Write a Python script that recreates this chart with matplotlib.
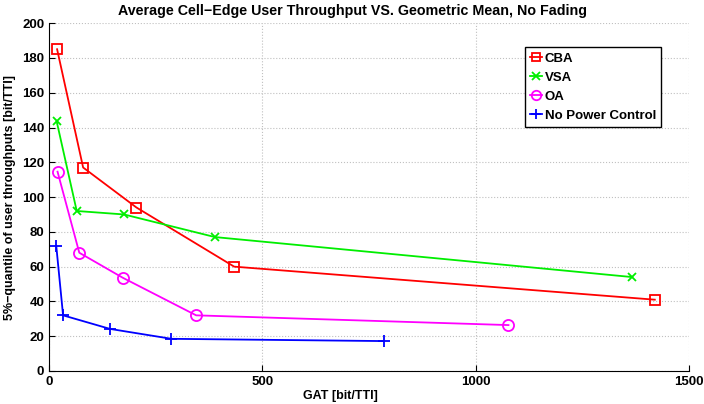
import matplotlib
matplotlib.use('Agg')
import matplotlib.pyplot as plt

# dane
cba_x = [19, 80, 205, 434, 1420]
cba_y = [185, 117, 94, 60, 41]
vsa_x = [18, 65, 176, 389, 1367]
vsa_y = [143.5, 92, 90, 77, 54]
oa_x = [20, 71, 173, 345, 1077]
oa_y = [114.6, 68, 53.6, 32, 26.4]
npc_x = [17, 33, 143, 287, 785]
npc_y = [72, 32, 24.2, 18.5, 17.2]

labels = ['CBA', 'VSA', 'OA', 'No Power Control']
x_ticks = [0, 500, 1000, 1500]
y_ticks = list(range(0, 201, 20))

plt.rcParams['font.family'] = ['Liberation Sans', 'DejaVu Sans']
plt.rcParams['font.weight'] = 'bold'

fig = plt.figure(figsize=(7.04, 4.04), dpi=100)
ax = fig.add_axes([0.0696, 0.0817, 0.909, 0.861])

ax.plot(cba_x, cba_y, color='red', lw=1.3, marker='s', ms=7, mfc='none', mew=1.3, label=labels[0])
ax.plot(vsa_x, vsa_y, color='#00ee00', lw=1.3, marker='x', ms=6, mew=1.3, label=labels[1])
ax.plot(oa_x, oa_y, color='magenta', lw=1.3, marker='o', ms=8, mfc='none', mew=1.3, label=labels[2])
ax.plot(npc_x, npc_y, color='blue', lw=1.3, marker='+', ms=9, mew=1.3, label=labels[3])

ax.set_xlim(0, 1500)
ax.set_ylim(0, 200)
ax.set_xticks(x_ticks)
ax.set_yticks(y_ticks)
ax.grid(True, color='#c0c0c0', linestyle=':', lw=0.8)
ax.tick_params(direction='in', labelsize=9.5, length=4)
for lab in ax.get_xticklabels() + ax.get_yticklabels():
    lab.set_fontweight('bold')
ax.spines['top'].set_visible(False)
ax.spines['right'].set_visible(False)

ax.set_title('Average Cell\u2212Edge User Throughput VS. Geometric Mean, No Fading',
             fontsize=10.3, fontweight='bold', pad=6, x=0.474)
ax.set_xlabel('GAT [bit/TTI]', fontsize=9, fontweight='bold', labelpad=2)
ax.xaxis.set_label_coords(0.455, -0.055)
ax.set_ylabel('5%\u2212quantile of user throughputs [bit/TTI]', fontsize=9, fontweight='bold')

leg = ax.legend(loc='upper right', bbox_to_anchor=(0.957, 0.93), fontsize=9.5,
                handlelength=0.9, handletextpad=0.2, borderpad=0.4, labelspacing=0.5,
                markerscale=0.85, fancybox=False, framealpha=1, edgecolor='black',
                borderaxespad=0)
leg.get_frame().set_linewidth(1.0)

fig.savefig('out.png', dpi=100)
